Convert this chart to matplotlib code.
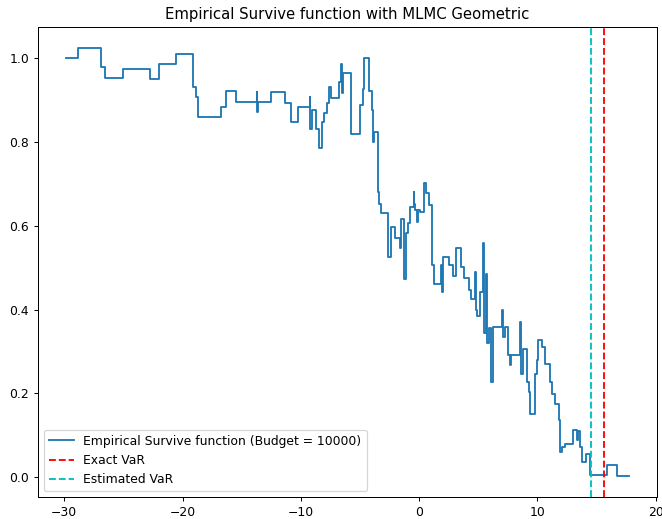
import matplotlib
matplotlib.use("Agg")
import matplotlib.pyplot as plt

# Breakpoints of the empirical survival function (value holds from each x to the next)
loss_x = [
    -29.86, -28.82, -26.93, -26.56, -25.02, -22.79, -21.95, -20.58, -19.08, -18.86,
    -18.66, -16.75, -16.33, -15.49, -13.74, -13.70, -13.66, -12.56, -11.37, -10.85,
    -10.22, -9.25, -9.21, -9.08, -8.68, -8.43, -8.20, -8.06, -7.78, -7.58,
    -7.41, -6.80, -6.60, -6.53, -6.46, -5.75, -4.97, -4.74, -4.63, -4.21,
    -3.98, -3.93, -3.79, -3.51, -3.37, -3.22, -2.67, -2.35, -2.02, -1.59,
    -1.51, -1.32, -1.11, -0.94, -0.75, -0.47, -0.41, -0.33, -0.20, -0.12,
    0.09, 0.43, 0.54, 0.79, 1.08, 1.27, 1.86, 1.93, 2.03, 2.48,
    2.85, 3.13, 3.53, 3.75, 4.17, 4.37, 4.73, 4.79, 4.93, 5.15,
    5.38, 5.52, 5.64, 5.72, 5.94, 6.06, 6.28, 6.98, 7.05, 7.26,
    7.54, 7.69, 7.77, 8.55, 8.60, 8.76, 9.14, 9.31, 9.40, 9.79,
    9.94, 10.07, 10.36, 10.64, 11.06, 11.25, 11.48, 11.84, 11.87, 12.05,
    12.34, 13.03, 13.31, 13.45, 13.59, 13.73, 14.10, 14.45, 15.84, 16.74,
    17.72,
]
survival = [
    1.000, 1.024, 0.978, 0.952, 0.974, 0.949, 0.987, 1.010, 0.932, 0.907,
    0.860, 0.884, 0.922, 0.896, 0.920, 0.872, 0.896, 0.919, 0.894, 0.848,
    0.884, 0.908, 0.830, 0.876, 0.831, 0.786, 0.848, 0.870, 0.892, 0.931,
    0.904, 0.942, 0.986, 0.917, 0.964, 0.818, 0.888, 0.926, 1.000, 0.922,
    0.876, 0.801, 0.823, 0.681, 0.653, 0.630, 0.526, 0.598, 0.570, 0.546,
    0.615, 0.474, 0.582, 0.606, 0.644, 0.681, 0.653, 0.637, 0.609, 0.637,
    0.633, 0.701, 0.677, 0.649, 0.506, 0.462, 0.506, 0.442, 0.526, 0.506,
    0.480, 0.548, 0.502, 0.476, 0.446, 0.426, 0.490, 0.398, 0.384, 0.442,
    0.558, 0.343, 0.486, 0.319, 0.355, 0.227, 0.359, 0.400, 0.335, 0.359,
    0.291, 0.267, 0.291, 0.370, 0.247, 0.307, 0.227, 0.203, 0.151, 0.247,
    0.279, 0.327, 0.311, 0.271, 0.227, 0.199, 0.175, 0.136, 0.060, 0.072,
    0.080, 0.112, 0.088, 0.110, 0.073, 0.036, 0.056, 0.006, 0.029, 0.003,
    0.003,
]

budget = 10000
exact_var = 15.64
estimated_var = 14.52

DPI = 89
fig = plt.figure(figsize=(662 / DPI, 519 / DPI), dpi=DPI)
ax = fig.add_axes([0.057, 0.0418, 0.9354, 0.9068])

ax.step(loss_x, survival, where="post", color="#1f77b4",
        label=f"Empirical Survive function (Budget = {budget})")
ax.axvline(exact_var, color="r", linestyle="--", label="Exact VaR")
ax.axvline(estimated_var, color="c", linestyle="--", label="Estimated VaR")

ax.set_title("Empirical Survive function with MLMC Geometric")
ax.legend(loc="lower left")

fig.savefig("out.png", dpi=DPI)
